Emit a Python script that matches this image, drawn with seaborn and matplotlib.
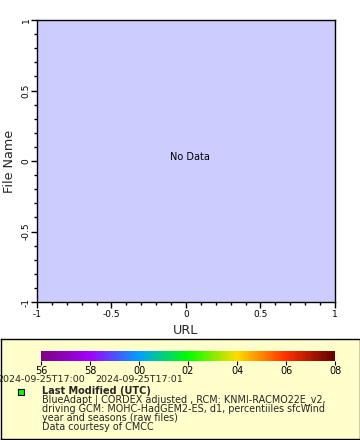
import numpy as np
import pandas as pd
import matplotlib
matplotlib.use("Agg")
import matplotlib.pyplot as plt
import matplotlib.colors as mcolors
import matplotlib.cm as cm
from matplotlib.ticker import MultipleLocator
import seaborn as sns

# =========================
# DATA
# =========================
axis_ticks = [-1, -0.5, 0, 0.5, 1]
axis_tick_labels = ["-1", "-0.5", "0", "0.5", "1"]

# colour bar: seconds after 17:00:00 (56 s .. 68 s)
cbar_seconds = [56, 58, 60, 62, 64, 66, 68]
cbar_labels = ["56", "58", "00", "02", "04", "06", "08"]
time_label_seconds = [56, 60]
time_labels = ["2024-09-25T17:00", "2024-09-25T17:01"]
rainbow_colors = ["#800080", "#a000ff", "#00a0ff", "#00ff00",
                  "#ffdc00", "#ff3000", "#640000"]

legend_title = "Last Modified (UTC)"
legend_lines = [
    "BlueAdapt | CORDEX adjusted , RCM: KNMI-RACMO22E_v2,",
    "driving GCM: MOHC-HadGEM2-ES, d1, percentiiles sfcWind",
    "year and seasons (raw files)",
    "Data courtesy of CMCC",
]

# no rows at all -> "No Data"
df = pd.DataFrame({"URL": pd.Series(dtype=float),
                   "File Name": pd.Series(dtype=float)})

# =========================
# STYLE
# =========================
sns.set_theme(style="ticks")
plt.rcParams["font.family"] = ["DejaVu Sans"]
plt.rcParams.update({
    "axes.linewidth": 1.0,
    "xtick.major.width": 1.0,
    "ytick.major.width": 1.0,
    "xtick.minor.width": 1.0,
    "ytick.minor.width": 1.0,
    "xtick.color": "black",
    "ytick.color": "black",
    "axes.edgecolor": "black",
})

W, H = 360, 440
fig = plt.figure(figsize=(W / 100, H / 100), dpi=100)
fig.patch.set_facecolor("white")


def px_box(x0, y0, x1, y1):
    return [x0 / W, 1 - y1 / H, (x1 - x0) / W, (y1 - y0) / H]


# =========================
# MAIN AXES
# =========================
ax = fig.add_axes(px_box(37, 20, 335, 302))
ax.set_facecolor("#ccccff")
sns.scatterplot(data=df, x="URL", y="File Name", ax=ax)

ax.set_xlim(-1, 1)
ax.set_ylim(-1, 1)
ax.set_xticks(axis_ticks)
ax.set_xticklabels(axis_tick_labels, fontsize=6.5)
ax.set_yticks(axis_ticks)
ax.set_yticklabels(axis_tick_labels, fontsize=6.5, rotation=90, va="center")
ax.xaxis.set_minor_locator(MultipleLocator(0.1))
ax.yaxis.set_minor_locator(MultipleLocator(0.1))
ax.tick_params(which="major", length=4)
ax.tick_params(axis="x", which="major", pad=2)
ax.tick_params(axis="y", which="major", pad=0.5)
ax.tick_params(which="minor", length=2.5)
ax.set_xlabel("URL", fontsize=9.2, labelpad=3)
ax.set_ylabel("File Name", fontsize=9.2, labelpad=4)
for s in ax.spines.values():
    s.set_visible(True)
    s.set_linewidth(1.0)
ax.grid(False)

ax.text(0.513, 0.514, "No Data", transform=ax.transAxes,
        ha="center", va="center", fontsize=7, color="black")

# =========================
# LEGEND PANEL
# =========================
leg = fig.add_axes(px_box(0.5, 339, 359.5, 438.5))
leg.set_facecolor("#ffffcc")
leg.set_xlim(0.5, 359.5)
leg.set_ylim(438.5, 339)
leg.set_xticks([])
leg.set_yticks([])
for s in leg.spines.values():
    s.set_visible(True)
    s.set_linewidth(1.0)
    s.set_color("black")

leg.plot([21], [392], marker="s", markersize=4.5, color="#00ff00",
         markeredgecolor="black", markeredgewidth=0.8, linestyle="none")
leg.text(42, 390.5, legend_title, fontsize=7, fontweight="bold",
         va="center", ha="left")
for i, line in enumerate(legend_lines):
    leg.text(42, 399.5 + 9.3 * i, line, fontsize=6.9, va="center", ha="left")

# =========================
# COLOUR BAR
# =========================
cax = fig.add_axes(px_box(41, 351, 335, 361))
cmap = mcolors.LinearSegmentedColormap.from_list("rainbow2", rainbow_colors)
norm = mcolors.Normalize(vmin=cbar_seconds[0], vmax=cbar_seconds[-1])
cb = fig.colorbar(cm.ScalarMappable(norm=norm, cmap=cmap), cax=cax,
                  orientation="horizontal")
cb.outline.set_visible(False)
cb.set_ticks(cbar_seconds)
cb.set_ticklabels(cbar_labels)
cax.tick_params(axis="x", length=3, width=0.8, pad=0.5, labelsize=7)

for sec, lab in zip(time_label_seconds, time_labels):
    xp = 41 + (sec - cbar_seconds[0]) / (cbar_seconds[-1] - cbar_seconds[0]) * 294
    leg.text(xp, 379.5, lab, fontsize=6.8, ha="center", va="center")

fig.savefig("out.png", dpi=100)
